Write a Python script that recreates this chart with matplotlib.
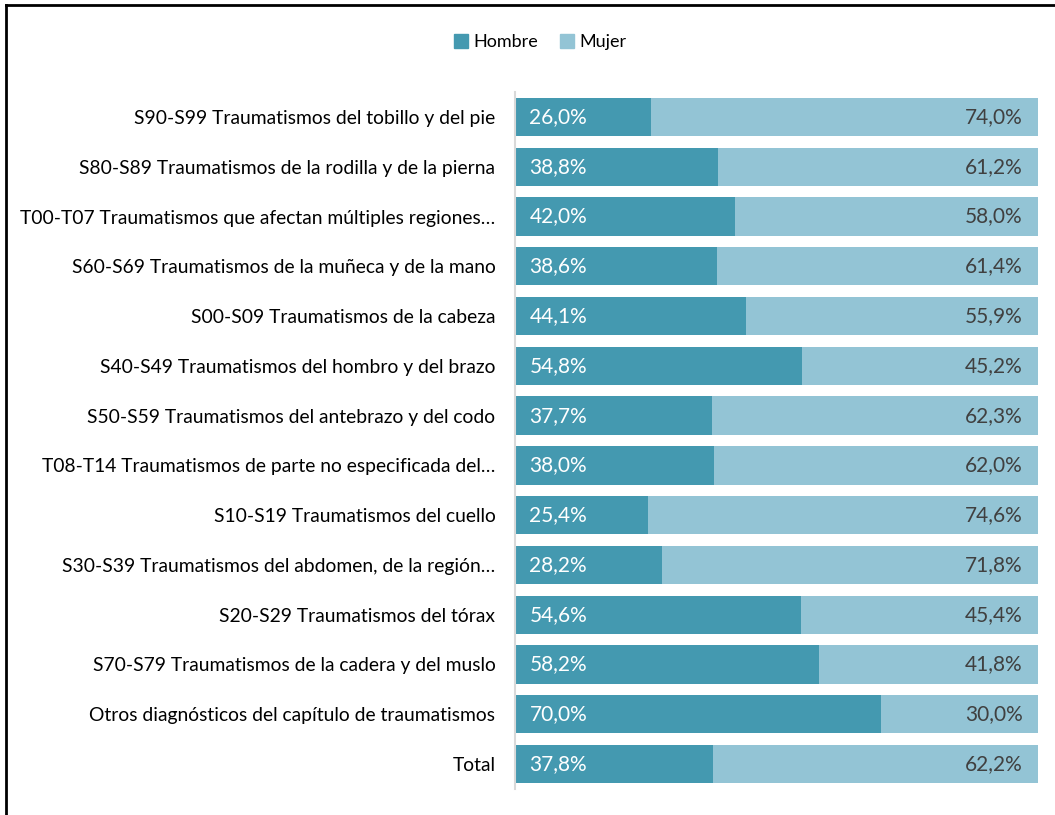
import matplotlib
matplotlib.use("Agg")
import matplotlib.pyplot as plt
from matplotlib.lines import Line2D
from matplotlib.patches import Patch
import numpy as np

categories = [
    "S90-S99 Traumatismos del tobillo y del pie",
    "S80-S89 Traumatismos de la rodilla y de la pierna",
    "T00-T07 Traumatismos que afectan múltiples regiones…",
    "S60-S69 Traumatismos de la muñeca y de la mano",
    "S00-S09 Traumatismos de la cabeza",
    "S40-S49 Traumatismos del hombro y del brazo",
    "S50-S59 Traumatismos del antebrazo y del codo",
    "T08-T14 Traumatismos de parte no especificada del…",
    "S10-S19 Traumatismos del cuello",
    "S30-S39 Traumatismos del abdomen, de la región…",
    "S20-S29 Traumatismos del tórax",
    "S70-S79 Traumatismos de la cadera y del muslo",
    "Otros diagnósticos del capítulo de traumatismos",
    "Total",
]
hombre = [26.0, 38.8, 42.0, 38.6, 44.1, 54.8, 37.7, 38.0, 25.4, 28.2, 54.6, 58.2, 70.0, 37.8]
mujer = [74.0, 61.2, 58.0, 61.4, 55.9, 45.2, 62.3, 62.0, 74.6, 71.8, 45.4, 41.8, 30.0, 62.2]

c_h = "#4499B0"
c_m = "#93C4D5"

plt.rcParams['font.family'] = ['Lato', 'DejaVu Sans']

fig = plt.figure(figsize=(10.55, 8.15), dpi=100)
ax = fig.add_axes([0.488, 0.032, 0.496, 0.855])

y = np.arange(len(categories))
ax.barh(y, hombre, height=0.77, color=c_h, label="Hombre")
ax.barh(y, mujer, left=hombre, height=0.77, color=c_m, label="Mujer")

for i in range(len(categories)):
    ax.text(2.8, i, f"{hombre[i]:.1f}%".replace(".", ","), color="white",
            va="center", ha="left", fontsize=15)
    ax.text(97.0, i, f"{mujer[i]:.1f}%".replace(".", ","), color="#404040",
            va="center", ha="right", fontsize=15)

ax.set_xlim(0, 100)
ax.set_ylim(len(categories) - 0.5, -0.5)
ax.set_yticks(y)
ax.set_yticklabels(categories, fontsize=13.9)
ax.tick_params(axis="y", length=0, pad=14)
ax.set_xticks([])
for s in ["top", "right", "bottom"]:
    ax.spines[s].set_visible(False)
ax.spines["left"].set_color("#D9D9D9")
ax.spines["left"].set_linewidth(1.5)

handles = [Patch(color=c_h, label="Hombre"), Patch(color=c_m, label="Mujer")]
fig.legend(handles=handles, loc="center", bbox_to_anchor=(0.512, 0.948), ncol=2,
           frameon=False, fontsize=13, handlelength=0.8, handleheight=0.8,
           handletextpad=0.3, columnspacing=1.2)

# outer frame (left and top edges visible)
fig.add_artist(Line2D([0.006, 0.006], [0, 0.994], color="black", lw=2, transform=fig.transFigure))
fig.add_artist(Line2D([0.006, 1.0], [0.994, 0.994], color="black", lw=2, transform=fig.transFigure))

fig.savefig("out.png", dpi=100)
